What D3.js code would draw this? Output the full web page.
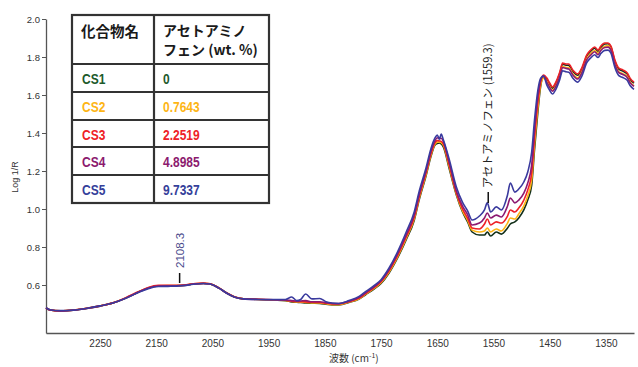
<!DOCTYPE html>
<html>
<head>
<meta charset="utf-8">
<script src="https://cdn.jsdelivr.net/npm/d3@7"></script>
<style>
  body { margin: 0; background: #fff; }
  svg { display: block; font-family: "Liberation Sans", Arial, sans-serif; }
</style>
</head>
<body>
<div id="chart"></div>
<script>
// wavenumbers (cm-1) shared by every spectrum
const wavenumbers = [2346, 2339, 2320, 2298, 2271, 2250, 2227, 2204, 2182, 2164, 2146, 2129, 2114, 2100, 2084, 2066, 2054, 2039, 2025, 2011,
  1995, 1968, 1941, 1920, 1909, 1900, 1893, 1884, 1873, 1859, 1848, 1837, 1825, 1807, 1789, 1777, 1762, 1750, 1736, 1721,
  1705, 1691, 1682, 1670, 1661, 1654, 1650, 1646, 1643, 1639, 1629, 1616, 1605, 1596, 1588, 1575, 1566, 1561, 1555, 1545,
  1536, 1525, 1520, 1512, 1505, 1496, 1489, 1482, 1477, 1471, 1466, 1461, 1455, 1450, 1445, 1439, 1432, 1427, 1421, 1416,
  1409, 1400, 1393, 1384, 1377, 1370, 1364, 1359, 1352, 1346, 1341, 1334, 1327, 1320, 1312, 1307, 1300];

const cs1 = [.479, .468, .463, .467, .478, .489, .505, .531, .562, .584, .595, .596, .596, .598, .605, .608, .605, .585, .558, .537,
  .527, .524, .521, .518, .511, .509, .508, .505, .504, .503, .499, .495, .495, .508, .526, .550, .580, .608, .662, .740,
  .840, .940, 1.050, 1.174, 1.279, 1.337, 1.345, 1.347, 1.342, 1.326, 1.216, 1.074, .984, .932, .879, .863, .863, .879, .858, .879,
  .868, .900, .921, .932, .953, .995, 1.047, 1.126, 1.311, 1.511, 1.647, 1.695, 1.683, 1.655, 1.636, 1.662, 1.715, 1.762, 1.757, 1.756,
  1.725, 1.704, 1.735, 1.805, 1.830, 1.846, 1.830, 1.850, 1.868, 1.870, 1.852, 1.778, 1.736, 1.726, 1.710, 1.683, 1.662];

const cs2 = [.480, .469, .464, .468, .479, .490, .506, .532, .563, .585, .596, .597, .597, .599, .606, .609, .606, .586, .559, .538,
  .527, .524, .521, .519, .513, .511, .510, .508, .506, .505, .501, .497, .497, .510, .528, .552, .583, .612, .667, .746,
  .847, .947, 1.057, 1.180, 1.285, 1.342, 1.352, 1.353, 1.350, 1.335, 1.225, 1.079, .990, .940, .889, .879, .884, .900, .879, .895,
  .884, .926, .953, .947, .974, 1.016, 1.068, 1.153, 1.337, 1.532, 1.653, 1.689, 1.672, 1.645, 1.625, 1.650, 1.703, 1.750, 1.745, 1.743,
  1.712, 1.690, 1.722, 1.792, 1.818, 1.834, 1.820, 1.840, 1.857, 1.860, 1.840, 1.765, 1.722, 1.712, 1.697, 1.670, 1.648];

const cs3 = [.480, .469, .464, .468, .479, .490, .506, .533, .564, .587, .598, .599, .598, .600, .607, .610, .607, .586, .559, .538,
  .528, .525, .522, .520, .515, .513, .512, .511, .509, .508, .504, .500, .500, .512, .531, .556, .587, .617, .673, .753,
  .855, .956, 1.066, 1.190, 1.293, 1.350, 1.360, 1.358, 1.356, 1.342, 1.235, 1.085, 1.000, .952, .900, .895, .921, .947, .916, .932,
  .926, .963, .995, .984, 1.005, 1.047, 1.100, 1.189, 1.374, 1.563, 1.668, 1.705, 1.689, 1.663, 1.642, 1.668, 1.721, 1.768, 1.763, 1.763,
  1.732, 1.711, 1.742, 1.811, 1.837, 1.853, 1.837, 1.858, 1.874, 1.874, 1.858, 1.784, 1.742, 1.732, 1.716, 1.689, 1.668];

const cs4 = [.479, .468, .463, .467, .478, .489, .505, .531, .562, .584, .595, .596, .596, .598, .605, .608, .605, .585, .558, .537,
  .527, .524, .522, .521, .518, .515, .516, .518, .512, .512, .507, .503, .502, .515, .535, .560, .592, .622, .680, .762,
  .866, .968, 1.078, 1.200, 1.305, 1.360, 1.375, 1.370, 1.372, 1.355, 1.250, 1.095, 1.015, .970, .916, .926, .953, .979, .953, .968,
  .958, 1.016, 1.058, 1.032, 1.047, 1.084, 1.137, 1.232, 1.416, 1.595, 1.679, 1.700, 1.667, 1.640, 1.620, 1.645, 1.697, 1.745, 1.740, 1.737,
  1.706, 1.684, 1.715, 1.786, 1.810, 1.828, 1.812, 1.834, 1.850, 1.852, 1.835, 1.760, 1.718, 1.708, 1.692, 1.665, 1.645];

const cs5 = [.481, .470, .465, .468, .479, .490, .505, .530, .560, .581, .592, .593, .594, .597, .604, .608, .605, .585, .558, .537,
  .527, .524, .523, .524, .537, .518, .524, .553, .527, .529, .512, .505, .503, .518, .540, .566, .598, .628, .688, .772,
  .880, .985, 1.095, 1.216, 1.320, 1.374, 1.389, 1.368, 1.395, 1.363, 1.265, 1.116, 1.035, .990, .942, .963, .995, 1.032, .984, 1.011,
  .995, 1.074, 1.137, 1.089, 1.105, 1.142, 1.195, 1.300, 1.468, 1.626, 1.689, 1.700, 1.652, 1.625, 1.605, 1.630, 1.682, 1.728, 1.722, 1.720,
  1.690, 1.668, 1.698, 1.770, 1.795, 1.812, 1.797, 1.818, 1.835, 1.836, 1.820, 1.745, 1.702, 1.692, 1.677, 1.650, 1.630];

const seriesNames = ["CS1", "CS2", "CS3", "CS4", "CS5"];
const seriesValues = [cs1, cs2, cs3, cs4, cs5];
const concentrations = ["0", "0.7643", "2.2519", "4.8985", "9.7337"];
const xTicks = [2250, 2150, 2050, 1950, 1850, 1750, 1650, 1550, 1450, 1350];
const yTicks = [0.6, 0.8, 1.0, 1.2, 1.4, 1.6, 1.8, 2.0];

const lineColors = ["#13301a", "#fdb515", "#ee2127", "#8c1a72", "#3a3a9e"];
const textColors = ["#1d5a2b", "#fdb515", "#ee2127", "#8c1a6e", "#35409a"];

var width = 638, height = 367;
var svg = d3.select("#chart")
  .append("svg")
  .attr("width", width)
  .attr("height", height);

var x = d3.scaleLinear().domain([2346, 1300]).range([46, 634]);
var y = d3.scaleLinear().domain([0.3474, 2.0]).range([333, 19]);

// axes
svg.append("g")
  .attr("transform", "translate(0,333)")
  .call(d3.axisBottom(x).tickValues(xTicks).tickSize(0).tickPadding(7).tickFormat(d3.format("d")))
  .call(g => g.select(".domain").attr("stroke", "#555").attr("stroke-width", 1.3))
  .call(g => g.selectAll("text").attr("font-size", 10).attr("fill", "#333"));

svg.append("g")
  .attr("transform", "translate(46,0)")
  .call(d3.axisLeft(y).tickValues(yTicks).tickSize(4).tickPadding(2).tickFormat(d3.format(".1f")).tickSizeOuter(0))
  .call(g => g.select(".domain").attr("stroke", "#555").attr("stroke-width", 1.3))
  .call(g => g.selectAll(".tick line").attr("stroke", "#555"))
  .call(g => g.selectAll("text").attr("font-size", 9.5).attr("fill", "#333"));

svg.append("text")
  .attr("transform", "translate(18,177) rotate(-90)")
  .attr("text-anchor", "middle")
  .attr("font-size", 9)
  .attr("fill", "#333")
  .text("Log 1/R");

var xl = svg.append("text")
  .attr("x", 329).attr("y", 362)
  .attr("font-family", "'Noto Sans CJK JP', sans-serif")
  .attr("font-size", 10)
  .attr("fill", "#333");
xl.append("tspan").text("波数 (cm");
xl.append("tspan").attr("font-size", 7).attr("dy", -4).text("-1");
xl.append("tspan").attr("dy", 4).text(")");

// spectra
var line = d3.line()
  .x((d, i) => x(wavenumbers[i]))
  .y(d => y(d))
  .curve(d3.curveMonotoneX);

svg.append("g")
  .selectAll("path")
  .data(seriesValues)
  .enter()
  .append("path")
  .attr("fill", "none")
  .attr("stroke", (d, i) => lineColors[i])
  .attr("stroke-width", 1.6)
  .attr("stroke-linejoin", "round")
  .attr("d", line);

// peak annotations
svg.append("line")
  .attr("x1", x(2108.3)).attr("x2", x(2108.3))
  .attr("y1", 273).attr("y2", 283)
  .attr("stroke", "#111").attr("stroke-width", 1.5);
svg.append("text")
  .attr("transform", "translate(" + (x(2108.3) + 4) + ",268) rotate(-90)")
  .attr("font-size", 11.5)
  .attr("fill", "#4a4a8c")
  .text("2108.3");

svg.append("line")
  .attr("x1", x(1559.3)).attr("x2", x(1559.3))
  .attr("y1", 192).attr("y2", 203)
  .attr("stroke", "#111").attr("stroke-width", 1.5);
svg.append("text")
  .attr("transform", "translate(" + (x(1559.3) + 4) + ",188) rotate(-90)")
  .attr("font-family", "'Noto Sans CJK JP', sans-serif")
  .attr("font-size", 11.2)
  .attr("fill", "#222")
  .text("アセトアミノフェン (1559.3)");

// table
var tbl = svg.append("g");
var rowLines = [64, 92, 120, 147, 175];
tbl.append("rect")
  .attr("x", 72).attr("y", 15).attr("width", 197).attr("height", 188)
  .attr("fill", "#fff").attr("stroke", "#333").attr("stroke-width", 2.2);
tbl.append("line")
  .attr("x1", 154).attr("x2", 154).attr("y1", 15).attr("y2", 203)
  .attr("stroke", "#333").attr("stroke-width", 2.2);
tbl.selectAll(".row")
  .data(rowLines)
  .enter()
  .append("line")
  .attr("x1", 72).attr("x2", 269)
  .attr("y1", d => d).attr("y2", d => d)
  .attr("stroke", "#333").attr("stroke-width", 2.2);

var cjk = "'Noto Sans CJK JP', sans-serif";
tbl.append("text").attr("x", 81).attr("y", 37)
  .attr("font-family", cjk).attr("font-weight", "bold").attr("font-size", 14.5).attr("fill", "#1a1a1a")
  .text("化合物名");
tbl.append("text").attr("x", 163).attr("y", 36)
  .attr("font-family", cjk).attr("font-weight", "bold").attr("font-size", 14).attr("fill", "#1a1a1a")
  .text("アセトアミノ");
tbl.append("text").attr("x", 163).attr("y", 55)
  .attr("font-family", cjk).attr("font-weight", "bold").attr("font-size", 14).attr("fill", "#1a1a1a")
  .text("フェン (wt. %)");

// condensed bold labels: squeeze Liberation Sans Bold horizontally
var rowTop = [64, 92, 120, 147, 175];
function narrowText(tx, ty, str, color) {
  tbl.append("text")
    .attr("transform", "translate(" + tx + "," + ty + ") scale(0.8,1)")
    .attr("font-family", "'Liberation Sans', Arial, sans-serif")
    .attr("font-weight", "bold")
    .attr("font-size", 15)
    .attr("fill", color)
    .text(str);
}
seriesNames.forEach(function (name, i) {
  var cy = rowTop[i] + 20;
  narrowText(82, cy, name, textColors[i]);
  narrowText(163, cy, concentrations[i], textColors[i]);
});
</script>
</body>
</html>
